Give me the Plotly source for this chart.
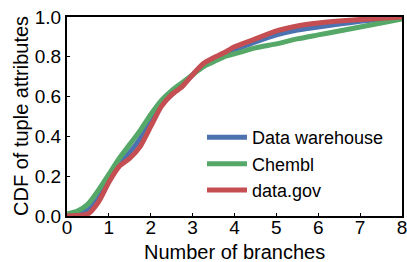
import plotly.graph_objects as go

x_vals = [0, 0.25, 0.5, 0.75, 1.0, 1.25, 1.5, 1.75, 2.0, 2.25, 2.5, 2.75, 3.0, 3.25, 3.5, 3.75,
          4.0, 4.5, 5.0, 5.5, 6.0, 6.5, 7.0, 7.5, 8.0]
warehouse = [0.003, 0.008, 0.03, 0.09, 0.18, 0.26, 0.32, 0.39, 0.48, 0.56, 0.61, 0.66, 0.71, 0.76,
             0.79, 0.815, 0.835, 0.875, 0.91, 0.935, 0.95, 0.965, 0.978, 0.99, 1.0]
chembl = [0.01, 0.025, 0.06, 0.13, 0.21, 0.29, 0.36, 0.43, 0.51, 0.58, 0.63, 0.67, 0.71, 0.75,
          0.775, 0.80, 0.815, 0.845, 0.865, 0.89, 0.91, 0.93, 0.95, 0.97, 0.99]
datagov = [0.0, 0.002, 0.01, 0.07, 0.17, 0.25, 0.29, 0.35, 0.45, 0.55, 0.61, 0.65, 0.71, 0.765,
           0.795, 0.82, 0.85, 0.89, 0.93, 0.955, 0.97, 0.98, 0.987, 0.994, 1.0]
series_names = ["Data warehouse", "Chembl", "data.gov"]
colors = ["#4C72B0", "#55A868", "#C44E52"]
x_title = "Number of branches"
y_title = "CDF of tuple attributes"

fig = go.Figure()
for name, ys, c in zip(series_names, [warehouse, chembl, datagov], colors):
    fig.add_trace(go.Scatter(x=x_vals, y=ys, name=name, mode="lines", cliponaxis=False,
                             line=dict(color=c, width=5, shape="spline", smoothing=0.6)))

font = "Liberation Sans, Arial, sans-serif"
fig.update_layout(
    width=407, height=262,
    margin=dict(l=67, r=5, t=17, b=46),
    paper_bgcolor="white", plot_bgcolor="white",
    font=dict(family=font, size=18, color="black"),
    showlegend=True,
    legend=dict(x=0.403, y=0.035, xanchor="left", yanchor="bottom",
                bgcolor="rgba(0,0,0,0)", font=dict(size=18), itemwidth=40,
                tracegroupgap=0),
    annotations=[
        dict(text=x_title, xref="paper", yref="paper", x=0.5, y=0, xanchor="center",
             yanchor="middle", yshift=-36, showarrow=False, font=dict(size=20)),
        dict(text=y_title, xref="paper", yref="paper", x=0, y=0.5, xanchor="center",
             yanchor="middle", xshift=-46.5, textangle=-90, showarrow=False,
             font=dict(size=20)),
    ],
)
fig.update_xaxes(range=[0, 8], tickvals=[0, 1, 2, 3, 4, 5, 6, 7, 8],
                 showgrid=False, zeroline=False, showline=True, linecolor="black",
                 linewidth=2, mirror=True, ticks="inside", ticklen=3, tickcolor="black",
                 automargin=False, ticklabelstandoff=-7, ticklabeloverflow="allow",
                 tickfont=dict(size=19))
fig.update_yaxes(range=[0, 1], tickvals=[0, 0.2, 0.4, 0.6, 0.8, 1.0],
                 ticktext=["0.0", "0.2", "0.4", "0.6", "0.8", "1.0"],
                 showgrid=False, zeroline=False, showline=True, linecolor="black",
                 linewidth=2, mirror=True, ticks="inside", ticklen=3, tickcolor="black",
                 automargin=False, ticklabeloverflow="allow",
                 tickfont=dict(size=19))

fig.write_html("out.html", config={"displayModeBar": False},
               post_script="document.body.style.margin='0';document.body.style.overflow='hidden';")
